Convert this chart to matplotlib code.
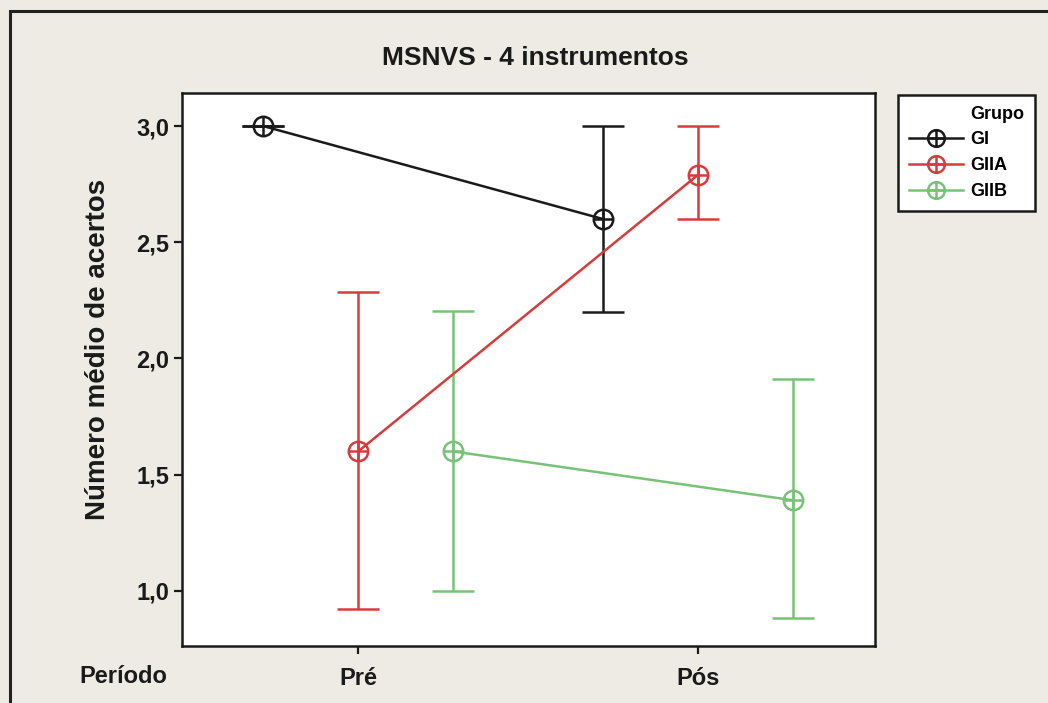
import matplotlib
matplotlib.use("Agg")
import matplotlib.pyplot as plt
from matplotlib.path import Path
from matplotlib.lines import Line2D
from matplotlib.patches import Rectangle
import numpy as np

plt.rcParams['font.family'] = ['Liberation Sans', 'DejaVu Sans']
plt.rcParams['font.weight'] = 'bold'

periods = ["Pré", "Pós"]
groups = ["GI", "GIIA", "GIIB"]
means = {"GI": [3.0, 2.6], "GIIA": [1.6, 2.79], "GIIB": [1.6, 1.39]}
ci_low = {"GI": [3.0, 2.2], "GIIA": [0.92, 2.6], "GIIB": [1.0, 0.885]}
ci_high = {"GI": [3.0, 3.0], "GIIA": [2.285, 3.0], "GIIB": [2.205, 1.91]}
yticks = [1.0, 1.5, 2.0, 2.5, 3.0]
title = "MSNVS - 4 instrumentos"
ylabel = "Número médio de acertos"

colors = {"GI": "#1a1a1a", "GIIA": "#d63c3c", "GIIB": "#78c278"}
offsets = {"GI": -0.28, "GIIA": 0.0, "GIIB": 0.28}

circ = Path.unit_circle()
hline = Path([[-1, 0], [1, 0]], [Path.MOVETO, Path.LINETO])
vline = Path([[0, -1], [0, 1]], [Path.MOVETO, Path.LINETO])
cplus = Path.make_compound_path(circ, hline, vline)

fig = plt.figure(figsize=(10.48, 7.03), dpi=100, facecolor="#edebe4")
ax = fig.add_axes([0.1737, 0.0811, 0.661, 0.7866])
ax.set_facecolor("white")

x = np.arange(len(periods))
for g in groups:
    xs = x + offsets[g]
    m = np.array(means[g])
    lo = m - np.array(ci_low[g])
    hi = np.array(ci_high[g]) - m
    ax.errorbar(xs, m, yerr=[lo, hi], color=colors[g], lw=1.8,
                elinewidth=1.8, capsize=15, capthick=1.8,
                marker=cplus, markersize=14, mfc="none", mec=colors[g],
                mew=1.8, label=g, zorder=3)

ax.set_xlim(-0.518, 1.52)
ax.set_ylim(0.763, 3.142)
ax.set_yticks(yticks)
ax.set_yticklabels([f"{v:.1f}".replace(".", ",") for v in yticks],
                   fontsize=17, fontweight="bold")
ax.set_xticks(x)
ax.set_xticklabels(periods, fontsize=17, fontweight="bold")
ax.tick_params(axis="both", direction="out", length=6, width=1.6, colors="#1a1a1a",
               labelcolor="#1a1a1a")
ax.tick_params(axis="y", pad=3)
ax.tick_params(axis="x", pad=9)
for s in ax.spines.values():
    s.set_linewidth(1.8)
    s.set_color("#1a1a1a")

ax.set_ylabel(ylabel, fontsize=20, fontweight="bold", color="#1a1a1a")
ax.yaxis.set_label_coords(-0.102, 0.537)
fig.text(0.5105, 0.918, title, ha="center", va="center", fontsize=19,
         fontweight="bold", color="#1a1a1a")
fig.text(0.1175, 0.037, "Período", ha="center", va="center", fontsize=17,
         fontweight="bold", color="#1a1a1a")

# outer border
fig.patches.append(Rectangle((10 / 1048, -0.1), 1.2, 1 - 11 / 703 + 0.1,
                             transform=fig.transFigure, fill=False,
                             lw=2.2, ec="#222222", zorder=0))

handles = [Line2D([], [], color="none", label="Grupo")]
for g in groups:
    handles.append(Line2D([], [], color=colors[g], lw=1.8, marker=cplus,
                          markersize=12, mfc="none", mec=colors[g], mew=1.8,
                          label=g))
leg = fig.legend(handles=handles, loc="upper left",
                 bbox_to_anchor=(898 / 1048, 1 - 95 / 703),
                 frameon=True, fancybox=False,
                 handlelength=3.0, handletextpad=0.4, labelspacing=0.48,
                 borderpad=0.6, borderaxespad=0,
                 prop={"weight": "bold", "size": 13})
leg.get_frame().set_edgecolor("#1a1a1a")
leg.get_frame().set_linewidth(1.8)
leg.get_frame().set_facecolor("white")
leg.get_frame().set_alpha(1)

fig.savefig("out.png", dpi=100, facecolor=fig.get_facecolor())
